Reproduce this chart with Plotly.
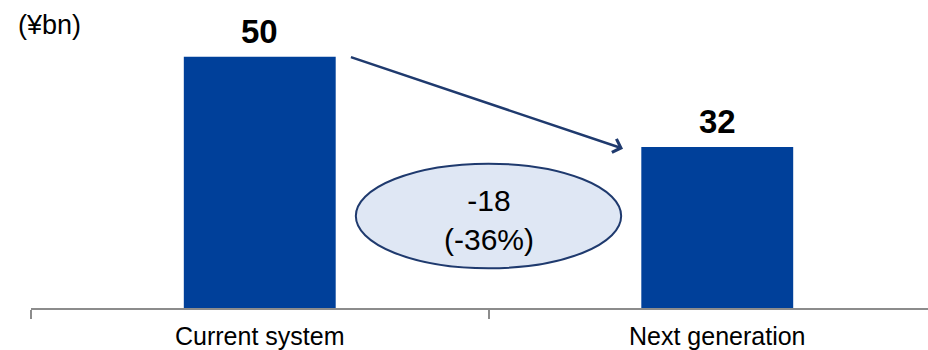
import plotly.graph_objects as go

# Annual cost comparison (¥bn)
categories = ["Current system", "Next generation"]
values = [50, 32]
unit_label = "(¥bn)"

bar_color = "#00409A"
arrow_color = "#1F3A6E"
ellipse_fill = "#DFE7F4"
font_family = "Arial, Liberation Sans, sans-serif"

diff = values[1] - values[0]
pct = round(diff / values[0] * 100)
bar_w = 0.332

fig = go.Figure()
fig.add_trace(go.Bar(
    x=categories, y=values, width=bar_w,
    marker=dict(color=bar_color, line=dict(width=0)),
    hoverinfo="skip",
))

# value labels above each bar
for i, v in enumerate(values):
    fig.add_annotation(
        x=i, y=v, xref="x", yref="y", text=f"<b>{v}</b>",
        showarrow=False, yanchor="bottom", yshift=5,
        font=dict(family=font_family, size=33, color="black"),
    )

# arrow from the top of the first bar to the side of the second bar
fig.add_annotation(
    x=1 - bar_w / 2 - 0.04, y=values[1] - 0.3, ax=bar_w / 2 + 0.03, ay=values[0],
    xref="x", yref="y", axref="x", ayref="y", text="",
    showarrow=True, arrowhead=4, arrowsize=1.1, arrowwidth=2.5, arrowcolor=arrow_color,
)

# ellipse holding the change
cx, cy = 0.5, 18.3
fig.add_shape(
    type="circle", xref="x", yref="y",
    x0=cx - 0.29, x1=cx + 0.29, y0=cy - 10.4, y1=cy + 10.4,
    fillcolor=ellipse_fill, line=dict(color=arrow_color, width=2), layer="above",
)
fig.add_annotation(
    x=cx, y=cy, xref="x", yref="y", yshift=-4,
    text=f"{diff}<br>({pct}%)", showarrow=False,
    font=dict(family=font_family, size=30, color="black"),
)

fig.add_annotation(
    x=0, y=1, xref="paper", yref="paper", xshift=-15, yshift=-25,
    text=unit_label, showarrow=False, xanchor="left", yanchor="middle",
    font=dict(family=font_family, size=27, color="black"),
)

fig.update_layout(
    width=928, height=350,
    margin=dict(l=31, r=0, t=0, b=40),
    paper_bgcolor="white", plot_bgcolor="white",
    showlegend=False,
    xaxis=dict(
        type="category",
        range=[-0.5, -0.5 + 897 / 457.5],
        tickson="boundaries", ticks="outside", ticklen=9, tickcolor="#8C8C8C", tickwidth=1.5,
        showline=True, linecolor="#8C8C8C", linewidth=1.5,
        showgrid=False, zeroline=False, ticklabelstandoff=5,
        tickfont=dict(family=font_family, size=25, color="black"),
    ),
    yaxis=dict(
        range=[0, 310 / 5.06], visible=False, showgrid=False, zeroline=False,
    ),
)

fig.write_html("out.html")
